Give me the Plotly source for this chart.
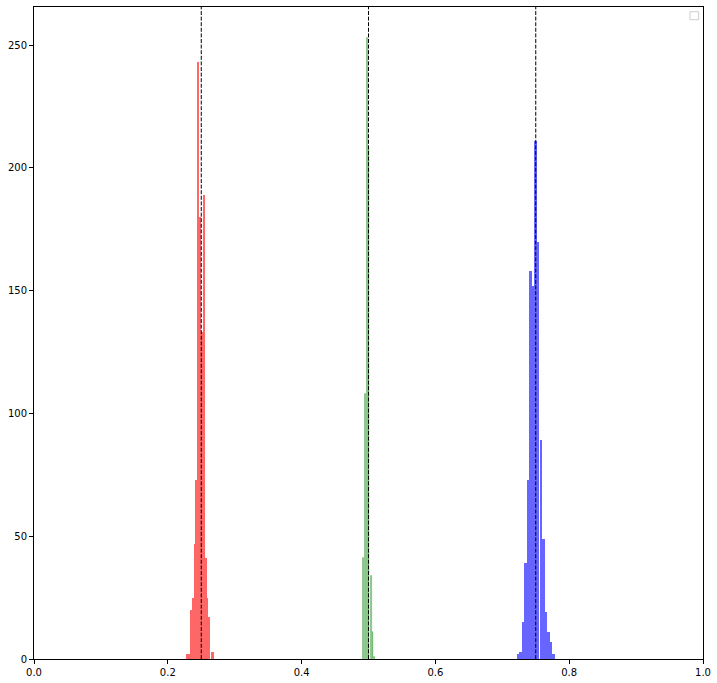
import plotly.graph_objects as go

# histogram data (bin centers, counts)
red_x = [0.2300, 0.2327, 0.2353, 0.2380, 0.2407, 0.2433, 0.2460, 0.2487,
         0.2513, 0.2540, 0.2567, 0.2593, 0.2620, 0.2646, 0.2673]
red_y = [2, 2, 20, 25, 47, 73, 243, 180, 133, 189, 41, 25, 17, 0, 3]

green_x = [0.4922, 0.4952, 0.4987, 0.5007, 0.5042, 0.5067, 0.5087]
green_y = [41, 108, 253, 208, 34, 11, 1]

blue_x = [0.7234, 0.7272, 0.7310, 0.7348, 0.7386, 0.7424, 0.7462, 0.7500,
          0.7537, 0.7575, 0.7613, 0.7651, 0.7689, 0.7727, 0.7765]
blue_y = [2, 3, 15, 39, 73, 158, 152, 211, 170, 89, 49, 19, 11, 7, 2]

true_values = [0.25, 0.5, 0.75]

x_ticks = [0.0, 0.2, 0.4, 0.6, 0.8, 1.0]
y_ticks = [0, 50, 100, 150, 200, 250]

fig = go.Figure()

fig.add_trace(go.Bar(x=red_x, y=red_y, width=0.00266,
                     marker=dict(color='rgb(255,102,102)', line=dict(width=0))))
fig.add_trace(go.Bar(x=green_x, y=green_y, width=0.0008,
                     marker=dict(color='rgba(255,255,255,0)',
                                 line=dict(color='rgb(102,179,102)', width=0.8))))
fig.add_trace(go.Bar(x=blue_x, y=blue_y, width=0.00379,
                     marker=dict(color='rgb(102,102,255)', line=dict(width=0))))

# dashed reference lines
for v in true_values:
    fig.add_shape(type='line', x0=v, x1=v, xref='x', y0=0, y1=1, yref='paper',
                  line=dict(color='black', width=1, dash='4px,1.6px'))

# empty legend box
fig.add_shape(type='rect', xref='paper', yref='paper',
              x0=0.9806, x1=0.9936, y0=0.9805, y1=0.9928,
              line=dict(color='rgb(204,204,204)', width=1), fillcolor='white')

axis_style = dict(showline=True, mirror=True, linecolor='black', linewidth=1,
                  ticks='outside', ticklen=4, tickwidth=1, tickcolor='black',
                  showgrid=False, zeroline=False,
                  tickfont=dict(family='DejaVu Sans', size=10, color='black'))

fig.update_xaxes(range=[0, 1], tickvals=x_ticks,
                 ticktext=[f'{t:.1f}' for t in x_ticks], **axis_style)
fig.update_yaxes(range=[0, 265.5], tickvals=y_ticks, **axis_style)

fig.update_layout(width=717, height=683, barmode='overlay', bargap=0,
                  showlegend=False,
                  plot_bgcolor='white', paper_bgcolor='white',
                  margin=dict(l=34, r=14, t=7, b=24, autoexpand=False))

# page has a default body margin, drop it so the figure fills the window
fig.write_html("out.html", config={'displayModeBar': False},
               post_script="document.body.style.margin='0px';document.body.style.overflow='hidden';")
